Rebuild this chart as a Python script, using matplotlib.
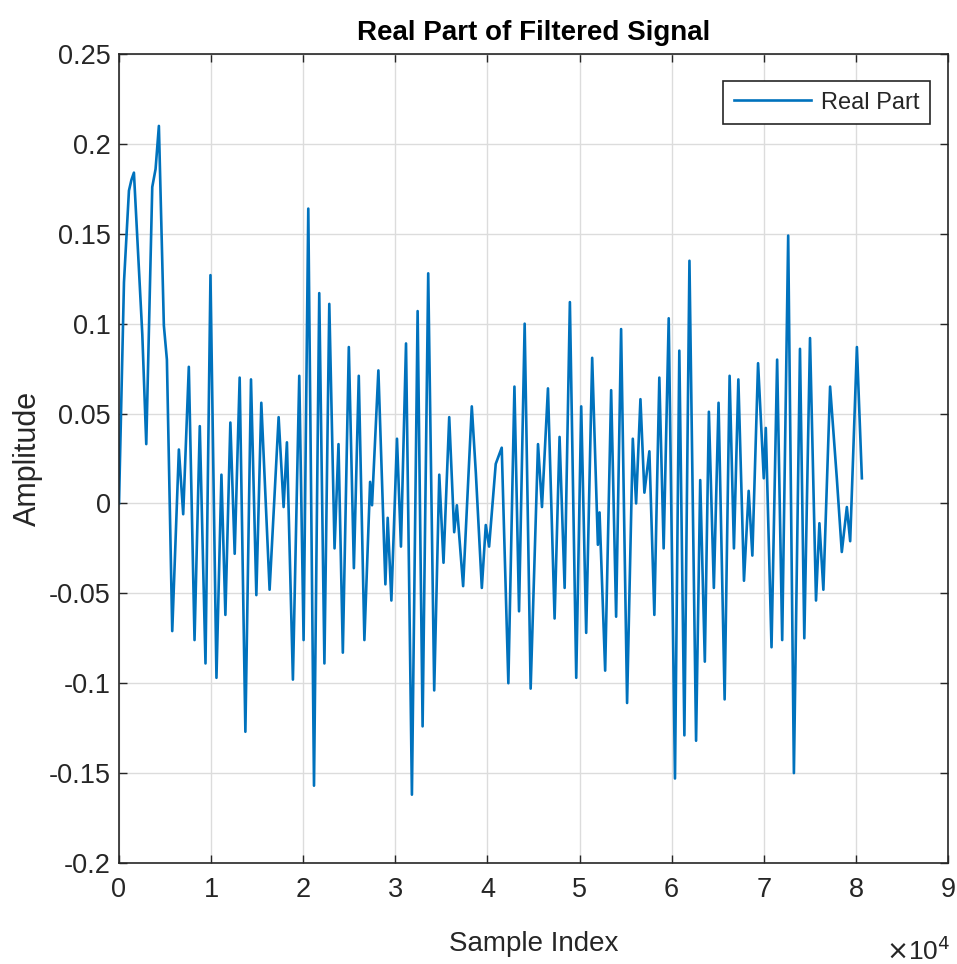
import matplotlib
matplotlib.use("Agg")
import matplotlib.pyplot as plt
import numpy as np

# ---- data (x in units of 1e4 samples) ----
sample_index_e4 = [
    0.0, 0.054, 0.108, 0.135, 0.162, 0.253, 0.296, 0.361, 0.397, 0.433,
    0.487, 0.52, 0.578, 0.65, 0.697, 0.758, 0.82, 0.877, 0.939, 0.993,
    1.058, 1.112, 1.155, 1.209, 1.256, 1.31, 1.372, 1.433, 1.491, 1.545,
    1.635, 1.733, 1.787, 1.823, 1.888, 1.957, 2.004, 2.055, 2.117, 2.174,
    2.23, 2.283, 2.34, 2.383, 2.43, 2.495, 2.55, 2.603, 2.664, 2.726,
    2.747, 2.816, 2.892, 2.917, 2.957, 3.018, 3.061, 3.116, 3.18, 3.242,
    3.296, 3.357, 3.422, 3.477, 3.523, 3.585, 3.639, 3.668, 3.736, 3.83,
    3.874, 3.939, 3.982, 4.018, 4.09, 4.155, 4.227, 4.293, 4.343, 4.404,
    4.469, 4.549, 4.592, 4.657, 4.729, 4.783, 4.838, 4.895, 4.964, 5.018,
    5.072, 5.137, 5.199, 5.217, 5.278, 5.343, 5.397, 5.451, 5.516, 5.578,
    5.614, 5.661, 5.704, 5.758, 5.812, 5.866, 5.913, 5.968, 6.036, 6.083,
    6.138, 6.193, 6.265, 6.31, 6.36, 6.404, 6.458, 6.509, 6.575, 6.629,
    6.676, 6.724, 6.785, 6.836, 6.876, 6.938, 7.0, 7.022, 7.084, 7.145,
    7.2, 7.265, 7.327, 7.393, 7.44, 7.502, 7.567, 7.604, 7.647, 7.72,
    7.793, 7.847, 7.902, 7.938, 8.011, 8.065,
]
real_part = [
    0.0, 0.123, 0.174, 0.180, 0.184, 0.094, 0.033, 0.176, 0.186, 0.210,
    0.099, 0.080, -0.071, 0.030, -0.006, 0.076, -0.076, 0.043, -0.089, 0.127,
    -0.097, 0.016, -0.062, 0.045, -0.028, 0.070, -0.127, 0.069, -0.051, 0.056,
    -0.048, 0.048, -0.002, 0.034, -0.098, 0.071, -0.076, 0.164, -0.157, 0.117,
    -0.089, 0.111, -0.025, 0.033, -0.083, 0.087, -0.036, 0.071, -0.076, 0.012,
    -0.001, 0.074, -0.045, -0.008, -0.054, 0.036, -0.024, 0.089, -0.162, 0.107,
    -0.124, 0.128, -0.104, 0.016, -0.033, 0.048, -0.016, -0.001, -0.046, 0.054,
    0.017, -0.047, -0.012, -0.024, 0.022, 0.031, -0.100, 0.065, -0.060, 0.100,
    -0.103, 0.033, -0.002, 0.064, -0.064, 0.037, -0.047, 0.112, -0.097, 0.054,
    -0.072, 0.081, -0.023, -0.005, -0.093, 0.063, -0.063, 0.097, -0.111, 0.036,
    0.000, 0.058, 0.006, 0.029, -0.062, 0.070, -0.025, 0.103, -0.153, 0.085,
    -0.129, 0.135, -0.132, 0.013, -0.088, 0.051, -0.047, 0.056, -0.109, 0.071,
    -0.025, 0.069, -0.043, 0.007, -0.029, 0.078, 0.014, 0.042, -0.080, 0.080,
    -0.076, 0.149, -0.150, 0.086, -0.075, 0.092, -0.054, -0.011, -0.048, 0.065,
    0.014, -0.027, -0.002, -0.021, 0.087, 0.014,
]
x_ticks = [0, 1, 2, 3, 4, 5, 6, 7, 8, 9]
x_tick_labels = ["0", "1", "2", "3", "4", "5", "6", "7", "8", "9"]
y_ticks = [0.25, 0.2, 0.15, 0.1, 0.05, 0, -0.05, -0.1, -0.15, -0.2]
y_tick_labels = ["0.25", "0.2", "0.15", "0.1", "0.05", "0", "-0.05", "-0.1", "-0.15", "-0.2"]

plt.rcParams['font.family'] = ['Liberation Sans', 'DejaVu Sans']

W, H = 957, 964
L, R, T, B = 119, 948, 54, 863
fig = plt.figure(figsize=(W / 100, H / 100), dpi=100)
ax = fig.add_axes([L / W, 1 - B / H, (R - L) / W, (B - T) / H])

x = np.array(sample_index_e4) * 1e4
ax.plot(x, real_part, color='#0072BD', linewidth=1.9, label='Real Part')

ax.set_xlim(0, 9e4)
ax.set_ylim(-0.2, 0.25)
ax.set_xticks([t * 1e4 for t in x_ticks])
ax.set_xticklabels(x_tick_labels)
ax.set_yticks(y_ticks)
ax.set_yticklabels(y_tick_labels)

dark = '#262626'
ax.tick_params(direction='in', top=True, right=True, length=6, width=1,
               colors=dark, labelsize=19.5, pad=6)
ax.tick_params(axis='x', pad=10)
for s in ax.spines.values():
    s.set_color(dark)
    s.set_linewidth(1.2)
ax.grid(True, color='#DCDCDC', linewidth=1.0)
ax.set_axisbelow(True)

ax.set_title('Real Part of Filtered Signal', fontsize=20, fontweight='bold',
             color='black', pad=10)
ax.set_xlabel('Sample Index', fontsize=20, color=dark, labelpad=20)
ax.set_ylabel('Amplitude', fontsize=22, color=dark, labelpad=4)

ax.annotate(r'$\times$10$^{4}$', xy=(1.0, 0), xycoords='axes fraction',
            xytext=(2, -74), textcoords='offset pixels', ha='right', va='top',
            fontsize=19, color=dark)

leg = ax.legend(loc='upper right',
                bbox_to_anchor=((930 - L) / (R - L), 1 - (81 - T) / (B - T)),
                borderaxespad=0, fontsize=17, frameon=True, fancybox=False,
                edgecolor=dark, framealpha=1, handlelength=3.3,
                handletextpad=0.4, borderpad=0.45)
leg.get_frame().set_linewidth(1.2)
for t in leg.get_texts():
    t.set_color(dark)

fig.savefig('out.png', dpi=100)
